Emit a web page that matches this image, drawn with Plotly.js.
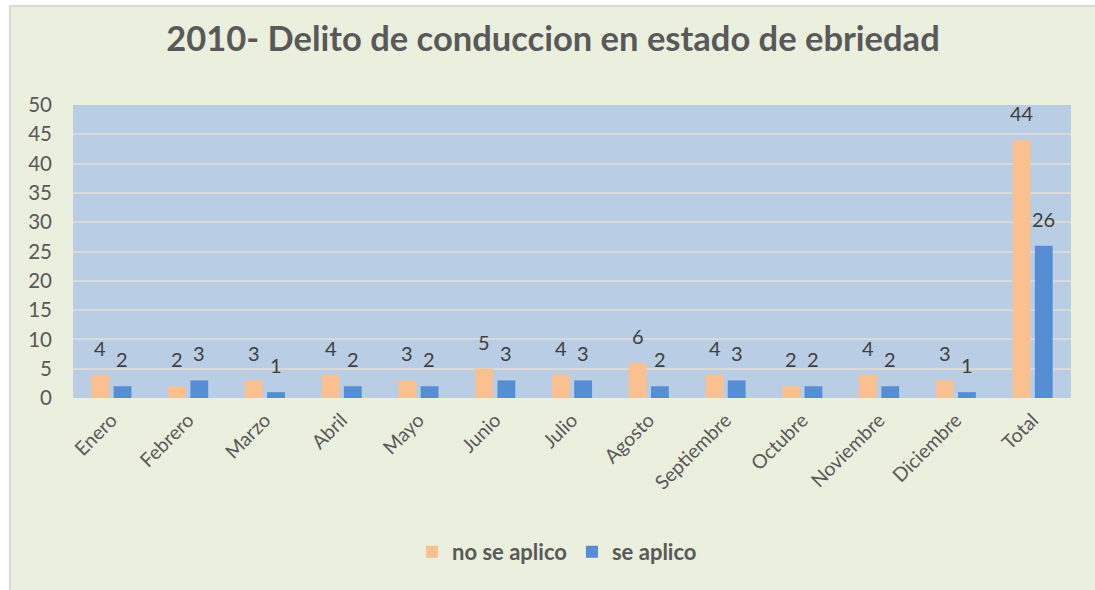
<!DOCTYPE html>
<html>
<head>
<meta charset="utf-8">
<script src="https://cdn.plot.ly/plotly-3.0.1.min.js"></script>
<style>
  html, body { margin: 0; padding: 0; background: #ffffff; }
  #chart { position: absolute; left: 9px; top: 5px; width: 1086px; height: 585px;
           border-left: 2px solid #d9d9d9; border-top: 2px solid #d9d9d9; box-sizing: border-box; }
</style>
</head>
<body>
<div id="chart"></div>
<script>
const categories = ["Enero","Febrero","Marzo","Abril","Mayo","Junio","Julio","Agosto","Septiembre","Octubre","Noviembre","Diciembre","Total"];
const noSeAplico = [4,2,3,4,3,5,4,6,4,2,4,3,44];
const seAplico   = [2,3,1,2,2,3,3,2,3,2,2,1,26];
const seriesNames = ["no se aplico", "se aplico"];
const yTicks = [0,5,10,15,20,25,30,35,40,45,50];

const FONT = "Lato, 'Open Sans', sans-serif";
const labelFont = {family: FONT, size: 20, color: "#404040"};

const traces = [
  {type: "bar", name: seriesNames[0], x: categories, y: noSeAplico,
   marker: {color: "#FAC090"}, hoverinfo: "x+y"},
  {type: "bar", name: seriesNames[1], x: categories, y: seAplico,
   marker: {color: "#558ED5"}, hoverinfo: "x+y"}
];

const annotations = [];
[noSeAplico, seAplico].forEach((vals, si) => {
  vals.forEach((v, i) => {
    annotations.push({
      x: categories[i], y: v, xref: "x", yref: "y",
      text: String(v), showarrow: false, font: labelFont,
      xanchor: "center", yanchor: "bottom",
      xshift: si === 0 ? -11 : 11, yshift: 13
    });
  });
});

const layout = {
  width: 1084, height: 583,
  paper_bgcolor: "#EBEFDE",
  plot_bgcolor: "#B9CDE5",
  margin: {l: 62, r: 24, t: 98, b: 192},
  title: {text: "2010- Delito de conduccion en estado de ebriedad",
          font: {family: FONT, size: 34.5, color: "#595959", weight: "bold"},
          x: 0.5, xanchor: "center", y: 0.945, yanchor: "middle"},
  barmode: "group",
  bargap: 0.42,
  bargroupgap: 0.2,
  xaxis: {type: "category", tickangle: -45,
          tickfont: {family: FONT, size: 19.5, color: "#595959"},
          showgrid: false, zeroline: false, showline: false, ticks: "",
          ticklabelstandoff: 6},
  yaxis: {range: [0, 50], tickvals: yTicks, ticktext: yTicks.map(String),
          tickfont: {family: FONT, size: 20.5, color: "#595959"},
          showgrid: true, gridcolor: "#D9D9D9", gridwidth: 2,
          zeroline: false, showline: false, ticks: "",
          ticklabelstandoff: 20},
  legend: {orientation: "h", x: 0.485, xanchor: "center", y: -0.525, yanchor: "middle",
           font: {family: FONT, size: 22, color: "#595959", weight: "bold"},
           bgcolor: "rgba(0,0,0,0)", itemwidth: 20},
  annotations: annotations,
  showlegend: true
};

Plotly.newPlot("chart", traces, layout, {displayModeBar: false, staticPlot: true});
</script>
</body>
</html>
